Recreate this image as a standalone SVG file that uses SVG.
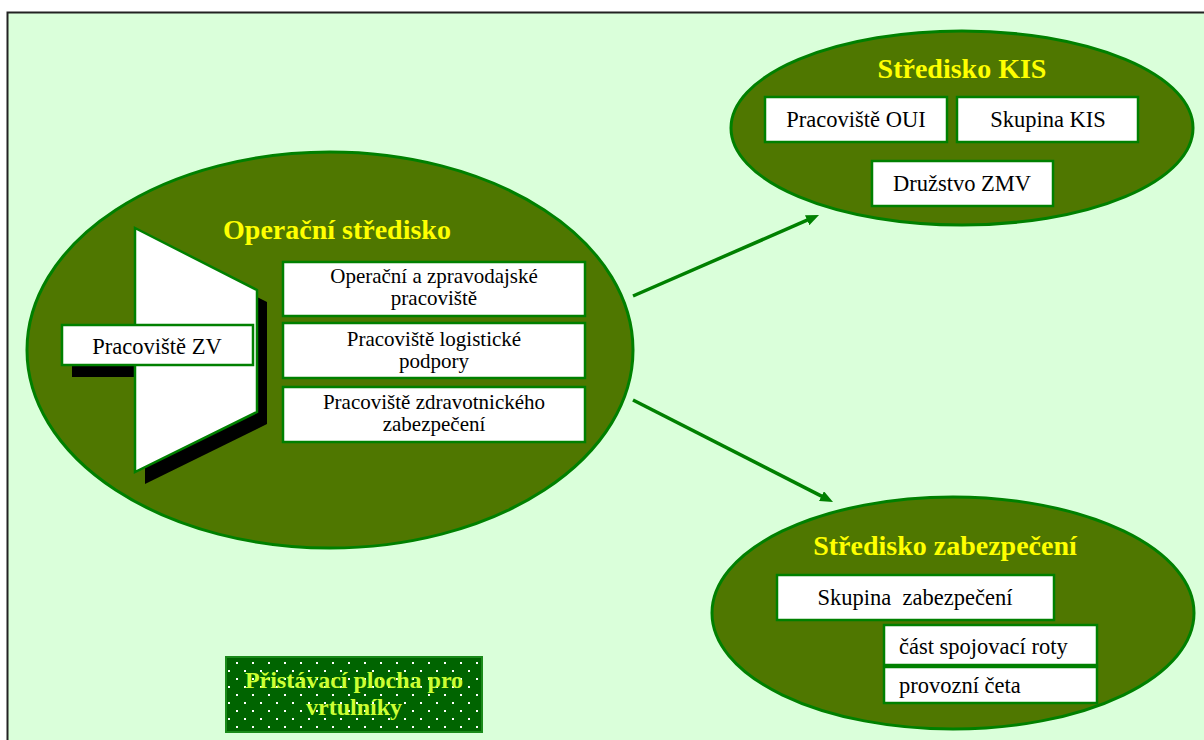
<svg xmlns="http://www.w3.org/2000/svg" width="1204" height="740" viewBox="0 0 1204 740">
<style>
.ell{fill:#4F7700;stroke:#008000;stroke-width:3}
.box{fill:#ffffff;stroke:#008000;stroke-width:2.5}
.t{font-family:"Liberation Serif","Times New Roman",serif;font-size:22.5px;fill:#000;text-anchor:middle}
.t2{font-family:"Liberation Serif","Times New Roman",serif;font-size:21px;fill:#000;text-anchor:middle}
.tl{font-family:"Liberation Serif","Times New Roman",serif;font-size:22.5px;fill:#000}
.title{font-family:"Liberation Serif","Times New Roman",serif;font-size:28px;font-weight:bold;fill:#FFFF00;text-anchor:middle}
.heli{font-family:"Liberation Serif","Times New Roman",serif;font-size:24px;font-weight:bold;fill:#CCFF33;text-anchor:middle}
.conn{stroke:#008000;stroke-width:3.5;fill:none}
</style>
<defs>
<marker id="ah" viewBox="0 0 13 11" refX="5" refY="5.5" markerWidth="13" markerHeight="11" markerUnits="userSpaceOnUse" orient="auto">
<path d="M0,0 L13,5.5 L0,11 z" fill="#008000"/>
</marker>
<pattern id="dots" x="226" y="657" width="16" height="16" patternUnits="userSpaceOnUse">
<rect x="0" y="0" width="16" height="16" fill="#006400"/>
<rect x="10" y="5" width="2" height="2" fill="#ffffff"/>
<rect x="2" y="13" width="2" height="2" fill="#ffffff"/>
</pattern>
</defs>
<rect x="7.5" y="12.5" width="1210" height="740" fill="#DAFFDA" stroke="#222" stroke-width="2"/>

<g id="operacni-stredisko">
<ellipse class="ell" cx="330" cy="350" rx="303" ry="198"/>
<text class="title" x="337" y="239">Operační středisko</text>
</g>

<g id="pracoviste-zv">
<g fill="#000" transform="translate(10,12)">
<polygon points="135,228 257,290 257,412 135,472"/>
<rect x="62" y="325" width="191" height="40"/>
</g>
<polygon points="135,228 257,290 257,412 135,472" fill="#fff" stroke="#008000" stroke-width="2.5"/>
<rect class="box" x="62" y="325" width="191" height="40"/>
<text class="t" x="157" y="354">Pracoviště ZV</text>
</g>

<g id="op-zprav">
<rect class="box" x="283" y="262" width="302" height="54"/>
<text class="t2" x="434" y="283">Operační a zpravodajské</text>
<text class="t2" x="434" y="305">pracoviště</text>
</g>
<g id="log-podpora">
<rect class="box" x="283" y="323" width="302" height="55"/>
<text class="t2" x="434" y="346">Pracoviště logistické</text>
<text class="t2" x="434" y="368">podpory</text>
</g>
<g id="zdrav-zab">
<rect class="box" x="283" y="387" width="302" height="55"/>
<text class="t2" x="434" y="409">Pracoviště zdravotnického</text>
<text class="t2" x="434" y="431">zabezpečení</text>
</g>

<g id="stredisko-kis">
<ellipse class="ell" cx="962" cy="128" rx="231" ry="97"/>
<text class="title" x="962" y="78">Středisko KIS</text>
</g>
<g id="pracoviste-oui">
<rect class="box" x="765" y="97" width="182" height="45"/>
<text class="t" x="856" y="127">Pracoviště OUI</text>
</g>
<g id="skupina-kis">
<rect class="box" x="957" y="97" width="181" height="45"/>
<text class="t" x="1048" y="127">Skupina KIS</text>
</g>
<g id="druzstvo-zmv">
<rect class="box" x="872" y="161" width="181" height="45"/>
<text class="t" x="962" y="191">Družstvo ZMV</text>
</g>

<g id="stredisko-zabezpeceni">
<ellipse class="ell" cx="953" cy="613" rx="241" ry="116"/>
<text class="title" x="945" y="555">Středisko zabezpečení</text>
</g>
<g id="skupina-zabezpeceni">
<rect class="box" x="777" y="575" width="277" height="45"/>
<text class="t" x="915" y="605" xml:space="preserve" style="white-space:pre">Skupina  zabezpečení</text>
</g>
<g id="cast-spojovaci-roty">
<rect class="box" x="884" y="625" width="213" height="40"/>
<text class="tl" x="899" y="654">část spojovací roty</text>
</g>
<g id="provozni-ceta">
<rect class="box" x="884" y="667" width="213" height="36"/>
<text class="tl" x="899" y="693">provozní četa</text>
</g>

<g id="pristavaci-plocha">
<rect x="226" y="657" width="256" height="75" fill="url(#dots)" stroke="#1A8A1A" stroke-width="2"/>
<text class="heli" x="354" y="688">Přistávací plocha pro</text>
<text class="heli" x="354" y="715">vrtulníky</text>
</g>

<g id="connectors">
<line class="conn" x1="633" y1="296" x2="811.7" y2="218.2" marker-end="url(#ah)"/>
<line class="conn" x1="633" y1="400" x2="825.9" y2="498.4" marker-end="url(#ah)"/>
</g>
</svg>
